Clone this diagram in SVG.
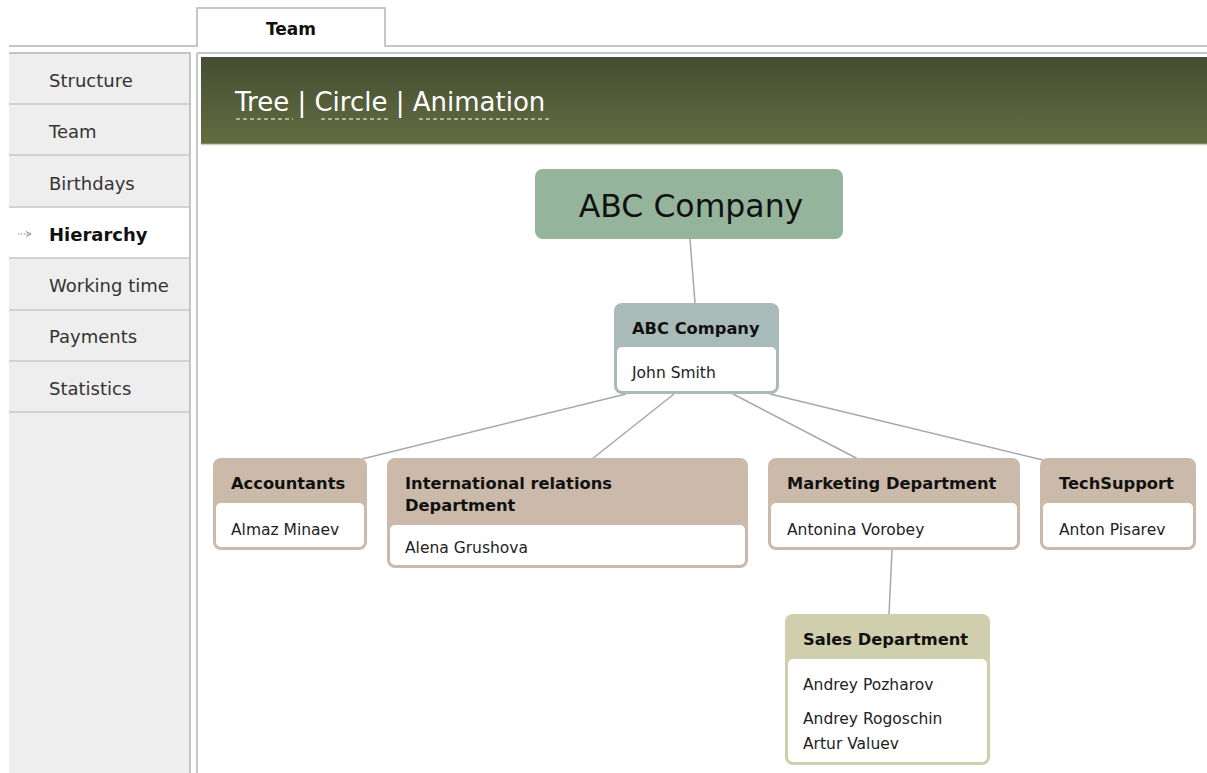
<svg xmlns="http://www.w3.org/2000/svg" width="1207" height="773" viewBox="0 0 1207 773">
  <defs>
    <linearGradient id="hdr" x1="0" y1="0" x2="0" y2="1">
      <stop offset="0" stop-color="#454d31"/>
      <stop offset="1" stop-color="#626d41"/>
    </linearGradient>
    <marker id="arr" viewBox="0 0 6 6" refX="5" refY="3" markerWidth="6" markerHeight="6" orient="auto">
      <path d="M0,0.5 L5,3 L0,5.5" fill="none" stroke="#888" stroke-width="1"/>
    </marker>
  </defs>
  <style>
    text { font-family: "DejaVu Sans", Verdana, sans-serif; }
    .side { font-size: 18px; fill: #333; }
    .sideb { font-size: 18px; fill: #111; font-weight: bold; }
    .sep { stroke: #d2d2d2; stroke-width: 2; }
    .ttl { font-size: 16.3px; font-weight: bold; fill: #111; }
    .nm { font-size: 15.5px; fill: #222; }
    .hl { font-size: 26px; fill: #ffffff; }
    .ul { stroke: #ffffff; stroke-width: 1.2; stroke-dasharray: 4 3; }
    .conn { stroke: #a8a8a8; stroke-width: 1.5; fill: none; }
    .body { fill: #ffffff; }
  </style>
  <rect x="0" y="0" width="1207" height="773" fill="#ffffff"/>

  <!-- tab bar -->
  <g id="tabbar">
    <path d="M9,46 H197 V8 H385 V46 H1207" fill="none" stroke="#b4b4b4" stroke-width="1.5"/>
    <text x="291" y="35" text-anchor="middle" style="font-size:17px;font-weight:bold;fill:#111">Team</text>
    <line x1="197" y1="53" x2="1207" y2="53" stroke="#b4b4b4" stroke-width="1.5"/>
  </g>

  <!-- sidebar -->
  <g id="sidebar">
    <rect x="9" y="53" width="181" height="730" fill="#eeeeee"/>
    <path d="M9,53 H190 V773" fill="none" stroke="#b4b4b4" stroke-width="1.5"/>
    <rect x="9" y="208" width="180" height="50" fill="#ffffff"/>
    <line class="sep" x1="9" y1="104" x2="189" y2="104"/>
    <line class="sep" x1="9" y1="155" x2="189" y2="155"/>
    <line class="sep" x1="9" y1="207" x2="189" y2="207"/>
    <line class="sep" x1="9" y1="258" x2="189" y2="258"/>
    <line class="sep" x1="9" y1="310" x2="189" y2="310"/>
    <line class="sep" x1="9" y1="361" x2="189" y2="361"/>
    <line class="sep" x1="9" y1="412" x2="189" y2="412"/>
    <line x1="197" y1="53" x2="197" y2="773" stroke="#b4b4b4" stroke-width="1.5"/>
    <text class="side" x="49" y="87">Structure</text>
    <text class="side" x="49" y="138">Team</text>
    <text class="side" x="49" y="190">Birthdays</text>
    <text class="sideb" x="49" y="241">Hierarchy</text>
    <text class="side" x="49" y="292">Working time</text>
    <text class="side" x="49" y="343">Payments</text>
    <text class="side" x="49" y="395">Statistics</text>
    <line x1="18" y1="234" x2="31" y2="234" stroke="#888" stroke-width="1" stroke-dasharray="1.5 1.5" marker-end="url(#arr)"/>
  </g>

  <!-- header bar -->
  <g id="header">
    <rect x="201" y="57" width="1006" height="87" fill="url(#hdr)"/>
    <line x1="201" y1="144.5" x2="1207" y2="144.5" stroke="#c9cfb9" stroke-width="1.5"/>
    <text class="hl" x="235" y="111">Tree | Circle | Animation</text>
    <line class="ul" x1="236" y1="119" x2="293" y2="119"/>
    <line class="ul" x1="321" y1="119" x2="391" y2="119"/>
    <line class="ul" x1="419" y1="119" x2="550" y2="119"/>
  </g>

  <!-- connectors -->
  <g id="connectors">
    <line class="conn" x1="690" y1="239" x2="695" y2="303"/>
    <line class="conn" x1="626" y1="394" x2="362" y2="459"/>
    <line class="conn" x1="674" y1="394" x2="592" y2="459"/>
    <line class="conn" x1="733" y1="394" x2="858" y2="459"/>
    <line class="conn" x1="770" y1="394" x2="1043" y2="460"/>
    <line class="conn" x1="892" y1="550" x2="889" y2="615"/>
  </g>

  <!-- nodes -->
  <g id="node-root">
    <rect x="535" y="169" width="308" height="70" rx="8" fill="#94b49b"/>
    <text x="691" y="217" text-anchor="middle" style="font-size:31.5px;fill:#111">ABC Company</text>
  </g>

  <g id="node-abc">
    <rect x="614" y="303" width="165" height="91" rx="8" fill="#a9bbb9"/>
    <rect class="body" x="617" y="347" width="159" height="44" rx="5"/>
    <text class="ttl" x="632" y="334">ABC Company</text>
    <text class="nm" x="632" y="378">John Smith</text>
  </g>

  <g id="node-accountants">
    <rect x="213" y="458" width="154" height="92" rx="8" fill="#cbb9a9"/>
    <rect class="body" x="216" y="503" width="148" height="44" rx="5"/>
    <text class="ttl" x="231" y="489">Accountants</text>
    <text class="nm" x="231" y="535">Almaz Minaev</text>
  </g>

  <g id="node-intl">
    <rect x="387" y="458" width="361" height="110" rx="8" fill="#cbb9a9"/>
    <rect class="body" x="390" y="525" width="355" height="40" rx="5"/>
    <text class="ttl" x="405" y="489">International relations</text>
    <text class="ttl" x="405" y="511">Department</text>
    <text class="nm" x="405" y="553">Alena Grushova</text>
  </g>

  <g id="node-marketing">
    <rect x="768" y="458" width="252" height="92" rx="8" fill="#cbb9a9"/>
    <rect class="body" x="771" y="503" width="246" height="44" rx="5"/>
    <text class="ttl" x="787" y="489">Marketing Department</text>
    <text class="nm" x="787" y="535">Antonina Vorobey</text>
  </g>

  <g id="node-techsupport">
    <rect x="1040" y="458" width="156" height="92" rx="8" fill="#cbb9a9"/>
    <rect class="body" x="1043" y="503" width="150" height="44" rx="5"/>
    <text class="ttl" x="1059" y="489">TechSupport</text>
    <text class="nm" x="1059" y="535">Anton Pisarev</text>
  </g>

  <g id="node-sales">
    <rect x="785" y="614" width="205" height="151" rx="8" fill="#cfcfad"/>
    <rect class="body" x="788" y="659" width="199" height="103" rx="5"/>
    <text class="ttl" x="803" y="645">Sales Department</text>
    <text class="nm" x="803" y="690">Andrey Pozharov</text>
    <text class="nm" x="803" y="724">Andrey Rogoschin</text>
    <text class="nm" x="803" y="749">Artur Valuev</text>
  </g>
</svg>
